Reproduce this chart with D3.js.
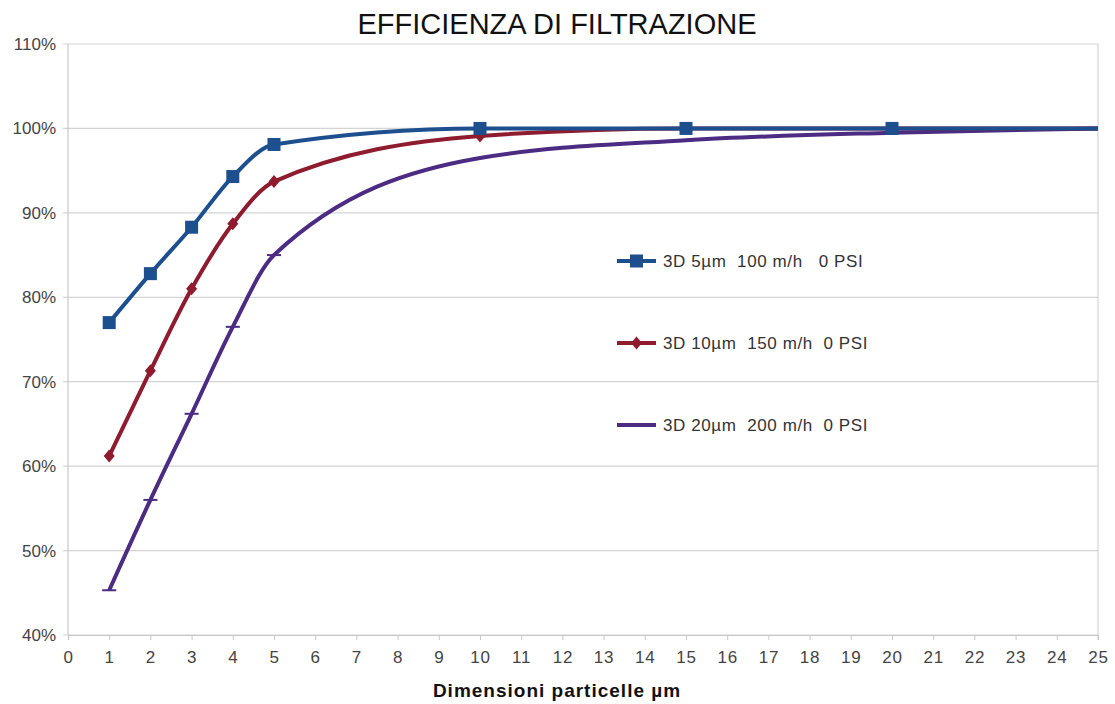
<!DOCTYPE html>
<html>
<head>
<meta charset="utf-8">
<script src="https://cdn.jsdelivr.net/npm/d3@7"></script>
<style>
  body { margin: 0; background: #fff; }
  svg { font-family: "Liberation Sans", Arial, sans-serif; }
</style>
</head>
<body>
<div id="chart"></div>
<script>
// Dati
const sizes = [1, 2, 3, 4, 5, 10, 15, 20, 25];
const blu = [77, 82.8, 88.3, 94.3, 98.1, 100, 100, 100, 100];
const rosso = [61.2, 71.3, 81, 88.7, 93.7, 99.1, 100, 100, 100];
const viola = [45.3, 56, 66.2, 76.5, 85, 96.5, 98.6, 99.5, 100];
const seriesNames = ["3D 5µm  100 m/h   0 PSI", "3D 10µm  150 m/h  0 PSI", "3D 20µm  200 m/h  0 PSI"];
const xTicks = d3.range(0, 26);
const yTicks = [40, 50, 60, 70, 80, 90, 100, 110];

const width = 1115, height = 704;
const margin = { top: 44, right: 17, bottom: 69, left: 68 };

const svg = d3.select("#chart").append("svg")
    .attr("width", width)
    .attr("height", height);

const x = d3.scaleLinear().domain([0, 25]).range([margin.left, width - margin.right]);
const y = d3.scaleLinear().domain([40, 110]).range([height - margin.bottom, margin.top]);

// Griglia orizzontale
svg.append("g").selectAll("line")
    .data(yTicks)
    .enter().append("line")
    .attr("x1", margin.left - 5).attr("x2", width - margin.right)
    .attr("y1", d => y(d)).attr("y2", d => y(d))
    .attr("stroke", "#d4d4d4").attr("stroke-width", 1.2);

// Assi
svg.append("line")
    .attr("x1", x(0)).attr("x2", x(0))
    .attr("y1", y(110)).attr("y2", y(40))
    .attr("stroke", "#c8c8c8").attr("stroke-width", 1.2);
svg.append("line")
    .attr("x1", x(25)).attr("x2", x(25))
    .attr("y1", y(110)).attr("y2", y(40) + 5)
    .attr("stroke", "#d4d4d4").attr("stroke-width", 1.2);

const xAxis = svg.append("g")
    .attr("transform", `translate(0,${y(40)})`)
    .call(d3.axisBottom(x).tickValues(xTicks).tickSize(5).tickPadding(11).tickFormat(d3.format("d")));
xAxis.select(".domain").attr("stroke", "#c8c8c8").attr("stroke-width", 1.2);
xAxis.selectAll(".tick line").attr("stroke", "#c8c8c8");
xAxis.selectAll("text").attr("font-size", 17).attr("fill", "#444")
    .attr("letter-spacing", 0.8)
    .attr("font-family", "Liberation Sans, Arial, sans-serif");

svg.append("g").selectAll("text")
    .data(yTicks)
    .enter().append("text")
    .attr("x", margin.left - 12)
    .attr("y", d => y(d))
    .attr("dy", "0.35em")
    .attr("text-anchor", "end")
    .attr("font-size", 17)
    .attr("fill", "#444")
    .text(d => d + "%");

// Titoli
svg.append("text")
    .attr("x", 557).attr("y", 34)
    .attr("text-anchor", "middle")
    .attr("font-size", 29)
    .attr("fill", "#111")
    .text("EFFICIENZA DI FILTRAZIONE");

svg.append("text")
    .attr("x", 557).attr("y", 697)
    .attr("text-anchor", "middle")
    .attr("font-size", 19)
    .attr("font-weight", "bold")
    .attr("letter-spacing", 1)
    .attr("fill", "#111")
    .text("Dimensioni particelle µm");

// Serie
const series = [
    { name: seriesNames[0], values: blu, color: "#1d4f8e", marker: "square" },
    { name: seriesNames[1], values: rosso, color: "#8e1b2e", marker: "diamond" },
    { name: seriesNames[2], values: viola, color: "#4c2b83", marker: "dash" }
];

const line = d3.line()
    .x(d => x(d[0]))
    .y(d => y(d[1]))
    .curve(d3.curveMonotoneX);

function drawMarker(g, type, color, cx, cy) {
    if (type === "square") {
        g.append("rect")
            .attr("x", cx - 6.5).attr("y", cy - 6.5)
            .attr("width", 13).attr("height", 13)
            .attr("fill", color);
    } else if (type === "diamond") {
        g.append("path")
            .attr("d", `M${cx},${cy - 6.5}L${cx + 5.5},${cy}L${cx},${cy + 6.5}L${cx - 5.5},${cy}Z`)
            .attr("fill", color);
    } else {
        g.append("line")
            .attr("x1", cx - 7).attr("x2", cx + 7)
            .attr("y1", cy).attr("y2", cy)
            .attr("stroke", color).attr("stroke-width", 2);
    }
}

// disegno in ordine inverso: il blu sopra
series.slice().reverse().forEach(s => {
    const pts = sizes.map((v, i) => [v, s.values[i]]);
    const g = svg.append("g");
    g.append("path")
        .attr("d", line(pts))
        .attr("fill", "none")
        .attr("stroke", s.color)
        .attr("stroke-width", 4);
    pts.filter(p => p[0] < 25).forEach(p => drawMarker(g, s.marker, s.color, x(p[0]), y(p[1])));
});

// Legenda
const legendY = [261, 343, 425];
series.forEach((s, i) => {
    const g = svg.append("g");
    g.append("line")
        .attr("x1", 617).attr("x2", 656)
        .attr("y1", legendY[i]).attr("y2", legendY[i])
        .attr("stroke", s.color).attr("stroke-width", 4);
    drawMarker(g, s.marker, s.color, 636.5, legendY[i]);
    g.append("text")
        .attr("x", 663).attr("y", legendY[i])
        .attr("dy", "0.35em")
        .attr("font-size", 17)
        .attr("letter-spacing", 0.6)
        .attr("fill", "#333")
        .style("white-space", "pre")
        .text(s.name);
});
</script>
</body>
</html>
